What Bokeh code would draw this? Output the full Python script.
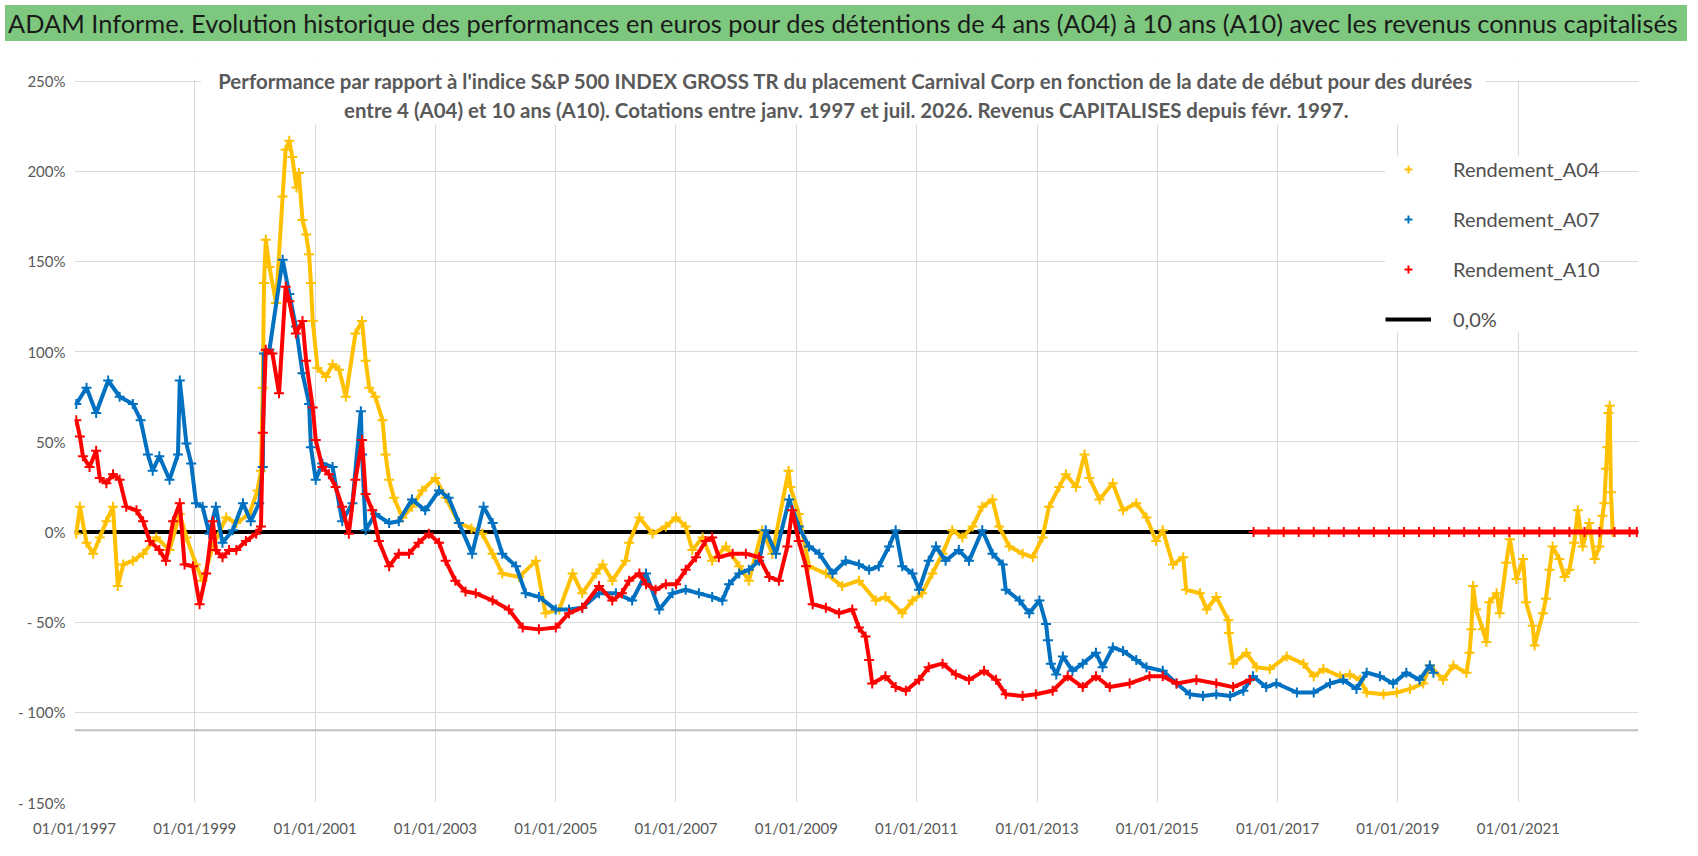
import numpy as np
import pandas as pd
from bokeh.plotting import figure
from bokeh.models import (Range1d, FixedTicker, DatetimeTickFormatter, Label,
                          BoxAnnotation, Span, Legend, LegendItem, Div)
from bokeh.layouts import column
from bokeh.embed import file_html
from bokeh.resources import INLINE

# ---------------- data ----------------
# dates are fractional years, values in %
a04_dates = [1997.03, 1997.09, 1997.2, 1997.31, 1997.42, 1997.53, 1997.64, 1997.72, 1997.81, 1997.97,
             1998.14, 1998.36, 1998.58, 1998.75, 1998.86, 1999.02, 1999.13, 1999.3, 1999.52, 1999.69,
             1999.91, 2000.04, 2000.1, 2000.13, 2000.15, 2000.18, 2000.24, 2000.35, 2000.46, 2000.51,
             2000.57, 2000.62, 2000.69, 2000.73, 2000.79, 2000.85, 2000.9, 2000.93, 2000.96, 2001.04,
             2001.18, 2001.29, 2001.4, 2001.51, 2001.67, 2001.78, 2001.84, 2001.9, 2002.0, 2002.12,
             2002.17, 2002.23, 2002.31, 2002.45, 2002.61, 2002.78, 2003.0, 2003.17, 2003.39, 2003.6,
             2003.78, 2003.95, 2004.11, 2004.39, 2004.67, 2004.83, 2005.06, 2005.28, 2005.44, 2005.67,
             2005.78, 2005.94, 2006.16, 2006.22, 2006.39, 2006.61, 2006.83, 2007.0, 2007.16, 2007.27,
             2007.44, 2007.6, 2007.83, 2008.05, 2008.21, 2008.43, 2008.6, 2008.87, 2008.9, 2009.04,
             2009.21, 2009.49, 2009.76, 2010.04, 2010.32, 2010.48, 2010.76, 2010.93, 2011.09, 2011.26,
             2011.43, 2011.59, 2011.76, 2011.93, 2012.09, 2012.26, 2012.37, 2012.54, 2012.76, 2012.93,
             2013.09, 2013.2, 2013.37, 2013.48, 2013.65, 2013.79, 2013.87, 2014.04, 2014.26, 2014.43,
             2014.65, 2014.82, 2014.98, 2015.09, 2015.26, 2015.43, 2015.48, 2015.71, 2015.82, 2015.98,
             2016.18, 2016.19, 2016.26, 2016.48, 2016.65, 2016.87, 2017.15, 2017.43, 2017.6, 2017.76,
             2018.04, 2018.2, 2018.37, 2018.48, 2018.76, 2018.98, 2019.2, 2019.42, 2019.53, 2019.75,
             2019.92, 2020.14, 2020.19, 2020.22, 2020.25, 2020.3, 2020.41, 2020.47, 2020.52, 2020.64,
             2020.69, 2020.8, 2020.86, 2020.97, 2021.08, 2021.13, 2021.24, 2021.27, 2021.41, 2021.46,
             2021.52, 2021.57, 2021.68, 2021.77, 2021.85, 2021.93, 2021.99, 2022.07, 2022.18, 2022.27,
             2022.35, 2022.4, 2022.43, 2022.46, 2022.48, 2022.5, 2022.52, 2022.54, 2022.57]
a04_values = [-1, 14, -6, -12, -3, 6, 14, -30, -18, -16,
              -12, -3, -10, 10, -3, -18, -27, -8, 8, 5,
              10, 23, 34, 80, 138, 162, 147, 127, 186, 212,
              217, 208, 191, 199, 173, 165, 154, 138, 117, 91,
              86, 93, 90, 75, 110, 117, 95, 80, 75, 62,
              43, 29, 19, 8, 14, 23, 30, 19, 5, 2,
              -1, -12, -23, -25, -16, -45, -43, -23, -34, -23,
              -18, -27, -16, -6, 8, -1, 3, 8, 3, -10,
              -3, -16, -8, -19, -27, 1, -12, 34, 25, 10,
              -19, -23, -30, -27, -38, -36, -45, -38, -34, -23,
              -12, 1, -3, 3, 14, 18, 3, -8, -12, -14,
              -3, 14, 25, 32, 25, 43, 30, 18, 27, 12,
              16, 8, -5, 1, -18, -14, -32, -34, -43, -36,
              -49, -56, -73, -67, -75, -76, -69, -73, -80, -76,
              -80, -79, -82, -89, -90, -89, -87, -84, -74, -82,
              -74, -78, -67, -54, -30, -43, -54, -61, -39, -34,
              -45, -17, -4, -26, -15, -39, -52, -63, -45, -37,
              -21, -8, -15, -25, -21, -6, 12, -8, 5, -15,
              -8, 9, 16, 35, 47, 66, 70, 22, 0]

a07_dates = [1997.03, 1997.2, 1997.36, 1997.56, 1997.75, 1997.97, 1998.1, 1998.22, 1998.3, 1998.41,
             1998.58, 1998.72, 1998.75, 1998.86, 1998.94, 1999.02, 1999.13, 1999.24, 1999.35, 1999.46,
             1999.63, 1999.8, 1999.93, 2000.07, 2000.13, 2000.15, 2000.24, 2000.46, 2000.57, 2000.68,
             2000.79, 2000.9, 2000.93, 2001.01, 2001.12, 2001.29, 2001.45, 2001.62, 2001.76, 2001.78,
             2001.84, 2002.0, 2002.23, 2002.39, 2002.61, 2002.83, 2003.06, 2003.22, 2003.39, 2003.61,
             2003.8, 2003.95, 2004.11, 2004.34, 2004.5, 2004.72, 2005.0, 2005.22, 2005.44, 2005.72,
             2006.0, 2006.27, 2006.5, 2006.72, 2006.94, 2007.16, 2007.38, 2007.6, 2007.77, 2007.88,
             2008.05, 2008.21, 2008.38, 2008.49, 2008.66, 2008.88, 2009.04, 2009.21, 2009.38, 2009.6,
             2009.82, 2010.04, 2010.21, 2010.37, 2010.54, 2010.65, 2010.76, 2010.93, 2011.04, 2011.2,
             2011.32, 2011.48, 2011.7, 2011.87, 2012.09, 2012.26, 2012.43, 2012.48, 2012.71, 2012.87,
             2013.04, 2013.15, 2013.18, 2013.23, 2013.32, 2013.43, 2013.59, 2013.76, 2013.98, 2014.09,
             2014.26, 2014.43, 2014.65, 2014.82, 2015.09, 2015.32, 2015.54, 2015.76, 2015.98, 2016.21,
             2016.43, 2016.59, 2016.81, 2016.98, 2017.32, 2017.6, 2017.87, 2018.09, 2018.31, 2018.48,
             2018.7, 2018.92, 2019.14, 2019.36, 2019.53, 2019.59]
a07_values = [71, 80, 66, 84, 75, 71, 62, 43, 34, 42,
              29, 43, 84, 49, 38, 16, 14, -1, 14, -6,
              1, 16, 6, 16, 36, 99, 101, 151, 132, 114,
              88, 71, 47, 29, 38, 36, 6, 16, 67, 43,
              1, 10, 5, 6, 18, 12, 23, 19, 5, -12,
              14, 5, -12, -19, -34, -36, -43, -43, -42, -34,
              -34, -38, -23, -43, -34, -32, -34, -36, -38, -29,
              -23, -21, -16, 1, -12, 18, 3, -8, -12, -23,
              -16, -18, -21, -19, -8, 1, -19, -23, -32, -16,
              -8, -16, -10, -16, 1, -12, -18, -32, -38, -45,
              -38, -51, -60, -73, -79, -69, -77, -73, -67, -75,
              -64, -66, -71, -75, -77, -84, -90, -91, -90, -91,
              -88, -80, -86, -84, -89, -89, -84, -82, -87, -78,
              -80, -84, -78, -82, -74, -78]

a10_dates = [1997.03, 1997.09, 1997.14, 1997.25, 1997.36, 1997.42, 1997.53, 1997.64, 1997.75, 1997.86,
             1998.03, 1998.14, 1998.25, 1998.41, 1998.52, 1998.64, 1998.75, 1998.83, 1998.97, 1999.08,
             1999.19, 1999.3, 1999.35, 1999.46, 1999.57, 1999.69, 1999.85, 2000.02, 2000.1, 2000.13,
             2000.18, 2000.29, 2000.4, 2000.51, 2000.57, 2000.68, 2000.79, 2000.85, 2000.96, 2001.01,
             2001.12, 2001.23, 2001.34, 2001.45, 2001.56, 2001.67, 2001.78, 2001.84, 2001.95, 2002.06,
             2002.23, 2002.39, 2002.56, 2002.72, 2002.89, 2003.06, 2003.17, 2003.33, 2003.5, 2003.67,
             2003.95, 2004.22, 2004.45, 2004.72, 2005.0, 2005.22, 2005.44, 2005.72, 2005.94, 2006.1,
             2006.22, 2006.39, 2006.5, 2006.66, 2006.83, 2007.0, 2007.16, 2007.33, 2007.49, 2007.6,
             2007.71, 2007.94, 2008.16, 2008.38, 2008.55, 2008.71, 2008.85, 2008.93, 2009.04, 2009.16,
             2009.27, 2009.49, 2009.71, 2009.93, 2010.04, 2010.15, 2010.21, 2010.26, 2010.48, 2010.65,
             2010.82, 2011.04, 2011.2, 2011.43, 2011.65, 2011.87, 2012.12, 2012.32, 2012.48, 2012.76,
             2012.98, 2013.26, 2013.51, 2013.76, 2013.98, 2014.21, 2014.54, 2014.87, 2015.09, 2015.32,
             2015.65, 2015.98, 2016.26, 2016.54,
             2016.6, 2016.85, 2017.1, 2017.35, 2017.6, 2017.85, 2018.1, 2018.35, 2018.6, 2018.85,
             2019.1, 2019.35, 2019.6, 2019.85, 2020.1, 2020.35, 2020.6, 2020.85, 2021.1, 2021.35,
             2021.6, 2021.85, 2022.1, 2022.35, 2022.6, 2022.85, 2022.97]
a10_values = [62, 53, 42, 36, 45, 30, 27, 32, 29, 14,
              12, 6, -5, -10, -16, 6, 16, -18, -19, -40,
              -23, 6, -10, -14, -10, -10, -5, -1, 3, 55,
              101, 99, 77, 136, 128, 110, 117, 95, 69, 51,
              36, 32, 25, 14, -1, 29, 51, 21, 12, -5,
              -19, -12, -12, -6, -1, -6, -16, -27, -33, -34,
              -38, -43, -53, -54, -53, -45, -42, -30, -38, -34,
              -27, -23, -29, -32, -29, -29, -21, -14, -5, -3,
              -14, -12, -12, -14, -25, -27, -8, 12, -5, -19,
              -40, -42, -45, -43, -53, -58, -71, -84, -80, -86,
              -88, -82, -75, -73, -79, -82, -77, -82, -90, -91,
              -90, -88, -80, -86, -80, -86, -84, -80, -80, -84,
              -82, -84, -86, -82,
              0, 0, 0, 0, 0, 0, 0, 0, 0, 0,
              0, 0, 0, 0, 0, 0, 0, 0, 0, 0,
              0, 0, 0, 0, 0, 0, 0]

zero_dates = [1997.0, 2023.0]
zero_values = [0, 0]

x_tick_years = [1997, 1999, 2001, 2003, 2005, 2007, 2009, 2011, 2013, 2015, 2017, 2019, 2021]
y_ticks = [-150, -100, -50, 0, 50, 100, 150, 200, 250]
y_tick_labels = ["- 150%", "- 100%", "- 50%", "0%", "50%", "100%", "150%", "200%", "250%"]

series_names = ["Rendement_A04", "Rendement_A07", "Rendement_A10", "0,0%"]
series_colors = ["#FFC000", "#0070C0", "#FF0000", "#000000"]

title_text = ("ADAM Informe. Evolution historique des performances en euros pour des détentions "
              "de 4 ans (A04) à 10 ans (A10) avec les revenus connus capitalisés")
subtitle_1 = ("Performance par rapport à l'indice S&P 500 INDEX GROSS TR  du placement Carnival Corp "
              "en fonction de la date de début pour des durées")
subtitle_2 = ("entre 4 (A04) et 10 ans (A10).  Cotations entre janv. 1997 et juil. 2026. "
              "Revenus CAPITALISES depuis févr. 1997.")

# ---------------- helpers ----------------
BASE_MS = pd.Timestamp("1997-01-01").value / 1e6
DAY_MS = 86400000.0


def yr2ms(yrs):
    return BASE_MS + (np.asarray(yrs, dtype=float) - 1997.0) * 365.25 * DAY_MS


def jan1(y):
    return pd.Timestamp(f"{y}-01-01").value / 1e6


FONT = "Lato"
GREY = "#595959"
Y_TOP = 262  # frame reaches a little above the 250 % line so the subtitle is not clipped

# ---------------- figure ----------------
p = figure(width=1682, height=804, x_axis_type="datetime",
           x_range=Range1d(jan1(1997), jan1(2023)), y_range=Range1d(-150, Y_TOP),
           output_backend="svg", toolbar_location=None, tools="",
           min_border_left=74, min_border_right=44, min_border_top=13, min_border_bottom=48,
           background_fill_color="white", border_fill_color="white", outline_line_color=None)

xticker = FixedTicker(ticks=[jan1(y) for y in x_tick_years])
yticker = FixedTicker(ticks=y_ticks)

p.xaxis.ticker = xticker
fmt = "%d/%m/%Y"
p.xaxis.formatter = DatetimeTickFormatter(years=fmt, months=fmt, days=fmt, hours=fmt,
                                          minutes=fmt, hourmin=fmt, seconds=fmt)
p.yaxis.ticker = yticker
p.yaxis.major_label_overrides = {t: l for t, l in zip(y_ticks, y_tick_labels)}

for ax in (p.xaxis, p.yaxis):
    ax.axis_line_color = None
    ax.major_tick_line_color = None
    ax.minor_tick_line_color = None
    ax.major_label_text_font = FONT
    ax.major_label_text_font_size = "15px"
    ax.major_label_text_color = GREY
p.xaxis.major_label_standoff = 10
p.yaxis.major_label_standoff = 3

p.xgrid.ticker = xticker
p.ygrid.ticker = yticker
p.grid.grid_line_color = "#D9D9D9"
p.grid.grid_line_width = 1

# hide vertical grid above the 250 % line
p.add_layout(BoxAnnotation(bottom=250.6, top=Y_TOP, fill_color="white", fill_alpha=1.0,
                           line_color=None))

# horizontal axis line crossing at -110 %
p.add_layout(Span(location=-110, dimension="width", line_color="#BFBFBF", line_width=2))

# zero reference series
r_zero = p.line(yr2ms(zero_dates), zero_values, line_color=series_colors[3], line_width=4)

renderers = []
for dates, vals, col in ((a04_dates, a04_values, series_colors[0]),
                         (a07_dates, a07_values, series_colors[1]),
                         (a10_dates, a10_values, series_colors[2])):
    xs = yr2ms(dates)
    vs = np.asarray(vals, dtype=float)
    # break the connecting line where the series jumps to its zero tail
    brk = len(vs)
    for i in range(1, len(vs)):
        if vs[i] == 0 and vs[i - 1] < -60:
            brk = i
            break
    p.line(xs[:brk], vs[:brk], line_color=col, line_width=4)
    if brk < len(vs):
        p.line(xs[brk:], vs[brk:], line_color=col, line_width=5)
    r = p.scatter(xs, vs, marker="cross", size=10, line_color=col, line_width=2)
    renderers.append(r)

# subtitle, with white background over the grid
p.add_layout(BoxAnnotation(left=yr2ms([1999.1])[0], right=yr2ms([2020.45])[0], top=Y_TOP, bottom=226,
                           fill_color="white", fill_alpha=1.0, line_color=None))
mid = yr2ms([2009.87])[0]
for txt, yv in ((subtitle_1, 250), (subtitle_2, 234)):
    p.add_layout(Label(x=mid, y=yv, text=txt, text_align="center", text_baseline="middle",
                       text_font=FONT, text_font_style="bold", text_font_size="20.45px",
                       text_color=GREY))

legend = Legend(items=[LegendItem(label=series_names[0], renderers=[renderers[0]]),
                       LegendItem(label=series_names[1], renderers=[renderers[1]]),
                       LegendItem(label=series_names[2], renderers=[renderers[2]]),
                       LegendItem(label=series_names[3], renderers=[r_zero])],
                location=(1311, 470), orientation="vertical",
                background_fill_color="white", background_fill_alpha=1.0,
                border_line_color=None, padding=10, spacing=24, margin=0,
                label_standoff=22, glyph_width=46, glyph_height=20, label_height=26,
                label_text_font=FONT, label_text_font_size="20px", label_text_color="#4F4F4F")
p.add_layout(legend)

title = Div(text=title_text, width=1682, height=36,
            styles={"background-color": "#7DC87E", "color": "#1A1A1A", "font-family": "Lato",
                    "font-size": "25.4px", "line-height": "36px", "padding-left": "3px",
                    "white-space": "nowrap", "overflow": "hidden", "box-sizing": "border-box"})

layout = column(title, p, spacing=0)

with open("out.html", "w") as f:
    f.write(file_html(layout, INLINE))
